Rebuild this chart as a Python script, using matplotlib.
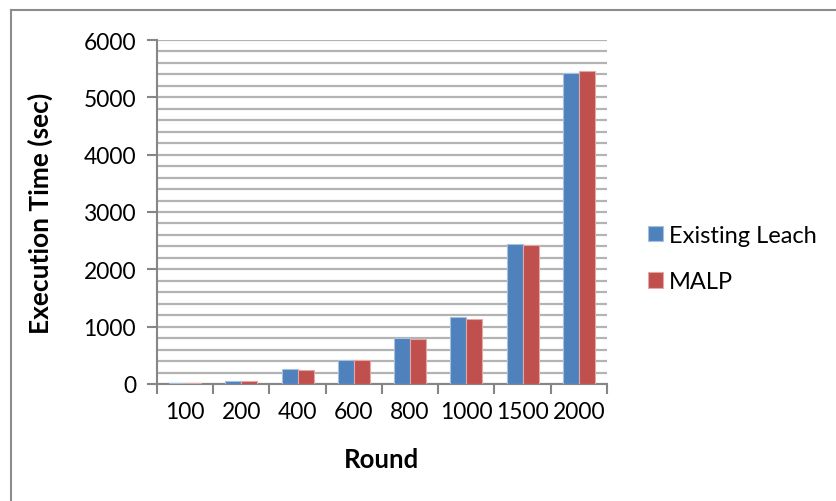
import matplotlib
matplotlib.use("Agg")
import matplotlib.pyplot as plt
import numpy as np
from matplotlib.lines import Line2D
from matplotlib.ticker import MultipleLocator, FixedLocator

rounds = ["100", "200", "400", "600", "800", "1000", "1500", "2000"]
existing_leach = [15, 60, 260, 425, 800, 1170, 2450, 5430]
malp = [15, 60, 245, 412, 780, 1130, 2430, 5460]

plt.rcParams['font.family'] = ['Lato', 'DejaVu Sans']

W, H = 837, 502
fig = plt.figure(figsize=(W / 100, H / 100), dpi=100)
fig.patch.set_facecolor("white")

ax = fig.add_axes([157 / W, 1 - 385 / H, (607 - 157) / W, (385 - 41) / H])

x = np.arange(len(rounds))
bw = 0.285
c_blue = "#4F81BD"
c_red = "#C0504D"
ax.bar(x - bw / 2, existing_leach, bw, color=c_blue, edgecolor="#A7C0DE", linewidth=0.8,
       label="Existing Leach", zorder=3)
ax.bar(x + bw / 2, malp, bw, color=c_red, edgecolor="#E3A8A6", linewidth=0.8,
       label="MALP", zorder=3)

ax.set_xlim(-0.5, len(rounds) - 0.5)
ax.set_ylim(0, 6000)
ax.yaxis.set_major_locator(MultipleLocator(1000))
ax.yaxis.set_minor_locator(MultipleLocator(200))
ax.grid(axis="y", which="both", color="#B3B3B3", linewidth=1.6, zorder=0)

ax.set_xticks(x)
ax.set_xticklabels(rounds)
ax.xaxis.set_minor_locator(FixedLocator(np.arange(-0.5, len(rounds), 1.0)))
ax.tick_params(axis="x", which="major", length=0, pad=12, labelsize=16.4)
ax.tick_params(axis="x", which="minor", length=7, width=1.5, color="#868686", direction="out")
ax.tick_params(axis="y", which="major", length=7, width=1.5, color="#868686", direction="out",
               labelsize=16.4, pad=8)
ax.tick_params(axis="y", which="minor", length=0)

for s in ["top", "right"]:
    ax.spines[s].set_visible(False)
for s in ["left", "bottom"]:
    ax.spines[s].set_color("#868686")
    ax.spines[s].set_linewidth(1.5)

ax.set_ylabel("Execution Time (sec)", fontsize=19, fontweight="bold", labelpad=22)
ax.set_xlabel("Round", fontsize=18.5, fontweight="bold", labelpad=18)

leg = ax.legend(loc="center left", bbox_to_anchor=(1.043, 0.365), frameon=False, fontsize=17,
                handlelength=0.65, handleheight=0.65, handletextpad=0.25, labelspacing=1.08)

fig.add_artist(Line2D([11 / W, 11 / W], [0, 1 - 11 / H], transform=fig.transFigure,
                      color="#8C8C8C", linewidth=1.5))
fig.add_artist(Line2D([11 / W, 1], [1 - 11 / H, 1 - 11 / H], transform=fig.transFigure,
                      color="#8C8C8C", linewidth=1.5))

fig.savefig("out.png", dpi=100, facecolor="white")
